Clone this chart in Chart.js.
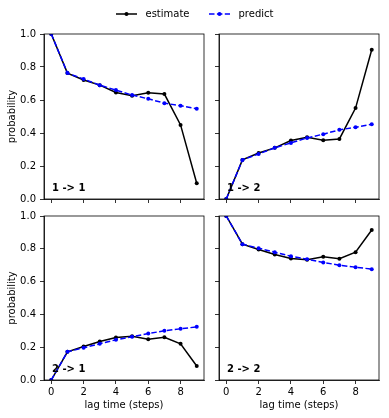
<!DOCTYPE html>
<html>
<head>
<meta charset="utf-8">
<script src="https://cdn.jsdelivr.net/npm/chart.js@4/dist/chart.umd.min.js"></script>
<style>
  html, body { margin: 0; padding: 0; background: #fff; }
  #wrap { position: relative; width: 389px; height: 418px; overflow: hidden; }
  canvas { position: absolute; }
</style>
</head>
<body>
<div id="wrap">
  <canvas id="legend" width="389" height="28" style="left:0;top:0"></canvas>
  <canvas id="c11" width="210" height="180" style="left:0;top:28px"></canvas>
  <canvas id="c12" width="180" height="180" style="left:205px;top:28px"></canvas>
  <canvas id="c21" width="210" height="208" style="left:0;top:210px"></canvas>
  <canvas id="c22" width="180" height="208" style="left:205px;top:210px"></canvas>
</div>
<script>
// lag times and tick labels
const lags = [0, 1, 2, 3, 4, 5, 6, 7, 8, 9];
const xTicks = [0, 2, 4, 6, 8];
const yTicks = [0, 0.2, 0.4, 0.6, 0.8, 1.0];

// transition probabilities, estimated vs predicted
const est11 = [1.0, 0.763, 0.721, 0.690, 0.646, 0.626, 0.644, 0.636, 0.449, 0.095];
const pred11 = [1.0, 0.763, 0.727, 0.690, 0.660, 0.630, 0.607, 0.581, 0.565, 0.547];
const est12 = [0.0, 0.237, 0.279, 0.310, 0.354, 0.374, 0.356, 0.364, 0.551, 0.905];
const pred12 = [0.0, 0.237, 0.273, 0.310, 0.340, 0.370, 0.393, 0.419, 0.435, 0.453];
const est21 = [0.0, 0.172, 0.204, 0.235, 0.259, 0.267, 0.249, 0.261, 0.221, 0.085];
const pred21 = [0.0, 0.172, 0.196, 0.221, 0.245, 0.263, 0.283, 0.300, 0.312, 0.324];
const est22 = [1.0, 0.828, 0.796, 0.765, 0.741, 0.733, 0.751, 0.739, 0.779, 0.915];
const pred22 = [1.0, 0.828, 0.804, 0.779, 0.755, 0.737, 0.717, 0.700, 0.688, 0.676];

const FONT = "'DejaVu Sans', sans-serif";
const DASH = [5.5, 2.4];

// box around the axes + the "i -> j" tag in the corner
const framePlugin = {
  id: "frame",
  afterDraw(chart, args, opts) {
    const { ctx, chartArea: a } = chart;
    ctx.save();
    ctx.strokeStyle = "#000";
    ctx.lineWidth = 0.8;
    ctx.strokeRect(a.left, a.top, a.right - a.left, a.bottom - a.top);
    ctx.fillStyle = "#000";
    ctx.font = "bold 10px " + FONT;
    ctx.textBaseline = "alphabetic";
    ctx.fillText(opts.tag, a.left + 0.05 * (a.right - a.left), a.bottom - 0.05 * (a.bottom - a.top));
    ctx.restore();
  }
};

function makePanel(id, est, pred, tag, showX, showY, yW, xH) {
  const pts = (arr) => lags.map((x, i) => ({ x: x, y: arr[i] }));
  return new Chart(document.getElementById(id), {
    type: "line",
    data: {
      datasets: [
        {
          label: "predict",
          data: pts(pred),
          borderColor: "#0000ff",
          backgroundColor: "#0000ff",
          borderWidth: 1.5,
          borderDash: DASH,
          pointRadius: 2,
          pointBorderWidth: 0,
          tension: 0,
          order: 0
        },
        {
          label: "estimate",
          data: pts(est),
          borderColor: "#000",
          backgroundColor: "#000",
          borderWidth: 1.5,
          pointRadius: 2,
          pointBorderWidth: 0,
          tension: 0,
          order: 1
        }
      ]
    },
    options: {
      responsive: false,
      animation: false,
      layout: { padding: { top: 6, right: 6, left: 0, bottom: 0 } },
      plugins: {
        legend: { display: false },
        tooltip: { enabled: false },
        frame: { tag: tag }
      },
      scales: {
        x: {
          type: "linear",
          min: -0.45,
          max: 9.45,
          afterBuildTicks: (s) => { s.ticks = xTicks.map((v) => ({ value: v })); },
          afterFit: (s) => { s.height = xH; s.paddingLeft = 0; s.paddingRight = 0; },
          grid: { drawOnChartArea: false, drawTicks: true, tickLength: 4, color: "#000", lineWidth: 0.8 },
          border: { display: true, color: "#000", width: 0.8 },
          ticks: {
            display: showX, padding: 2, color: "#000", maxRotation: 0, autoSkip: false,
            font: { family: FONT, size: 10 }
          },
          title: {
            display: showX, text: "lag time (steps)", color: "#000",
            font: { family: FONT, size: 10 }, padding: { top: 0, bottom: 7 }
          }
        },
        y: {
          type: "linear",
          min: 0,
          max: 1,
          afterBuildTicks: (s) => { s.ticks = yTicks.map((v) => ({ value: v })); },
          afterFit: (s) => { s.width = yW; s.paddingTop = 0; s.paddingBottom = 0; },
          grid: { drawOnChartArea: false, drawTicks: true, tickLength: 4, color: "#000", lineWidth: 0.8 },
          border: { display: true, color: "#000", width: 0.8 },
          ticks: {
            display: showY, padding: 4, color: "#000",
            font: { family: FONT, size: 10 },
            callback: (v) => v.toFixed(1)
          },
          title: {
            display: showY, text: "probability", color: "#000",
            font: { family: FONT, size: 10 }, padding: { top: 6, bottom: 0 }
          }
        }
      }
    },
    plugins: [framePlugin]
  });
}

makePanel("c11", est11, pred11, "1 -> 1", false, true, 44, 9);
makePanel("c12", est12, pred12, "1 -> 2", false, false, 14, 9);
makePanel("c21", est21, pred21, "2 -> 1", true, true, 44, 38);
makePanel("c22", est22, pred22, "2 -> 2", true, false, 14, 38);

// shared legend across the top of the figure
(function drawLegend() {
  const ctx = document.getElementById("legend").getContext("2d");
  const y = 14;
  const items = [
    { label: "estimate", color: "#000", dash: [], x: 116 },
    { label: "predict", color: "#0000ff", dash: DASH, x: 209 }
  ];
  ctx.font = "10px " + FONT;
  ctx.textBaseline = "middle";
  items.forEach((it) => {
    ctx.strokeStyle = it.color;
    ctx.fillStyle = it.color;
    ctx.lineWidth = 1.5;
    ctx.setLineDash(it.dash);
    ctx.beginPath();
    ctx.moveTo(it.x, y);
    ctx.lineTo(it.x + 21, y);
    ctx.stroke();
    ctx.setLineDash([]);
    ctx.beginPath();
    ctx.arc(it.x + 10.5, y, 2, 0, Math.PI * 2);
    ctx.fill();
    ctx.fillStyle = "#000";
    ctx.fillText(it.label, it.x + 29.5, y);
  });
})();
</script>
</body>
</html>
